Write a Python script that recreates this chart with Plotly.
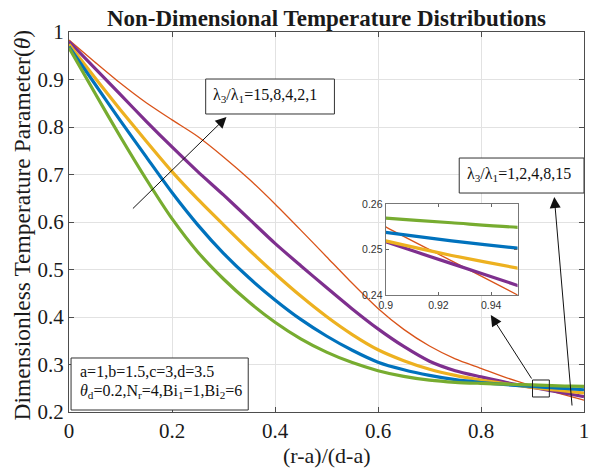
import plotly.graph_objects as go

# ---------------- data ----------------
x_vals = [0, 0.05, 0.1, 0.15, 0.2, 0.25, 0.3, 0.35, 0.4, 0.45, 0.5, 0.55, 0.6,
          0.65, 0.7, 0.75, 0.8, 0.85, 0.9, 0.925, 0.95, 0.975, 1.0]

red = [0.983, 0.937, 0.892, 0.851, 0.815, 0.780, 0.737, 0.690, 0.638, 0.583, 0.527, 0.471,
       0.418, 0.374, 0.339, 0.312, 0.292, 0.272, 0.2550, 0.2475, 0.2400, 0.2325, 0.2250]
purple = [0.980, 0.924, 0.868, 0.812, 0.758, 0.706, 0.657, 0.606, 0.555, 0.508, 0.462, 0.417,
          0.375, 0.338, 0.307, 0.287, 0.274, 0.262, 0.2517, 0.2469, 0.2421, 0.2373, 0.2325]
orange = [0.974, 0.904, 0.836, 0.770, 0.706, 0.648, 0.594, 0.541, 0.491, 0.444, 0.401, 0.363,
          0.331, 0.308, 0.290, 0.277, 0.267, 0.259, 0.2519, 0.2487, 0.2459, 0.2430, 0.2400]
blue = [0.969, 0.891, 0.813, 0.737, 0.662, 0.594, 0.534, 0.482, 0.436, 0.395, 0.360, 0.330,
        0.305, 0.289, 0.277, 0.268, 0.262, 0.2575, 0.2538, 0.2519, 0.2503, 0.2486, 0.2468]
green = [0.967, 0.872, 0.779, 0.690, 0.607, 0.537, 0.480, 0.431, 0.389, 0.354, 0.326, 0.304,
         0.287, 0.275, 0.267, 0.2625, 0.2603, 0.2585, 0.2569, 0.2559, 0.2549, 0.2545, 0.2541]

series = [("red", red, "#D95319", 1.3),
          ("purple", purple, "#7E2F8E", 3.2),
          ("orange", orange, "#EDB120", 3.2),
          ("blue", blue, "#0072BD", 3.2),
          ("green", green, "#77AC30", 3.2)]

x_ticks = [0, 0.2, 0.4, 0.6, 0.8, 1.0]
x_ticktext = ["0", "0.2", "0.4", "0.6", "0.8", "1"]
y_ticks = [0.2, 0.3, 0.4, 0.5, 0.6, 0.7, 0.8, 0.9, 1.0]
y_ticktext = ["0.2", "0.3", "0.4", "0.5", "0.6", "0.7", "0.8", "0.9", "1"]
inset_xticks = [0.9, 0.92, 0.94]
inset_xtext = ["0.9", "0.92", "0.94"]
inset_yticks = [0.24, 0.25, 0.26]
inset_ytext = ["0.24", "0.25", "0.26"]

SERIF = "Liberation Serif, Times New Roman, serif"
SANS = "Liberation Sans, Arial, sans-serif"

fig = go.Figure()
for name, ys, col, w in series:
    fig.add_trace(go.Scatter(x=x_vals, y=ys, mode="lines", name=name,
                             line=dict(color=col, width=w, shape="spline", smoothing=0.7),
                             showlegend=False, hoverinfo="skip"))
for name, ys, col, w in series:
    fig.add_trace(go.Scatter(x=x_vals, y=ys, mode="lines", name=name + " (zoom)",
                             xaxis="x2", yaxis="y2",
                             line=dict(color=col, width=w, shape="spline", smoothing=0.7),
                             showlegend=False, hoverinfo="skip"))

axis_common = dict(ticks="inside", ticklen=5, tickcolor="#4d4d4d", showline=True,
                   linecolor="#4d4d4d", linewidth=1, mirror="ticks", showgrid=True,
                   gridcolor="#e2e2e2", gridwidth=1, zeroline=False,
                   ticklabeloverflow="allow",
                   tickfont=dict(family=SERIF, size=21, color="#1a1a1a"))

fig.update_layout(
    width=589, height=474,
    margin=dict(l=69, r=0, t=32, b=62),
    paper_bgcolor="white", plot_bgcolor="white",
    title=dict(text="<b>Non-Dimensional Temperature Distributions</b>",
               x=0.5, xref="paper", xanchor="center",
               y=1 - 18 / 474, yref="container", yanchor="middle",
               font=dict(family=SERIF, size=23, color="#1a1a1a")),
    xaxis=dict(range=[0, 1], tickvals=x_ticks, ticktext=x_ticktext, **axis_common),
    yaxis=dict(range=[0.2, 1], tickvals=y_ticks, ticktext=y_ticktext, **axis_common),
    xaxis2=dict(domain=[0.615, 0.871], anchor="y2", range=[0.9, 0.95],
                tickvals=inset_xticks, ticktext=inset_xtext, ticks="inside", ticklen=3,
                tickcolor="#666", showline=True, linecolor="#777", linewidth=1.2,
                mirror="ticks", showgrid=False, zeroline=False,
                tickfont=dict(family=SANS, size=10.5, color="#333")),
    yaxis2=dict(domain=[0.308, 0.547], anchor="x2", range=[0.24, 0.26],
                tickvals=inset_yticks, ticktext=inset_ytext, ticks="inside", ticklen=3,
                tickcolor="#666", showline=True, linecolor="#777", linewidth=1.2,
                mirror="ticks", showgrid=False, zeroline=False,
                tickfont=dict(family=SANS, size=10.5, color="#333")),
)

shapes = [
    # inset white background (drawn in the inset subplot, below its traces)
    dict(type="rect", xref="x2", yref="y2", x0=0.9, x1=0.95, y0=0.24, y1=0.26,
         fillcolor="white", line=dict(width=0), layer="below"),
    # annotation box 1
    dict(type="rect", xref="x", yref="y", x0=0.2654, x1=0.5154, y0=0.8274, y1=0.901,
         fillcolor="white", line=dict(color="#333", width=1), layer="above"),
    # annotation box 2
    dict(type="rect", xref="x", yref="y", x0=0.7577, x1=1.0, y0=0.661, y1=0.7347,
         fillcolor="white", line=dict(color="#333", width=1), layer="above"),
    # parameter box
    dict(type="rect", xref="x", yref="y", x0=0.004, x1=0.348, y0=0.2042, y1=0.3137,
         fillcolor="white", line=dict(color="#333", width=1), layer="above"),
    # zoom window
    dict(type="rect", xref="x", yref="y", x0=0.9, x1=0.9327, y0=0.2316, y1=0.2674,
         fillcolor="rgba(0,0,0,0)", line=dict(color="#222", width=1), layer="above"),
]
fig.update_layout(shapes=shapes)

tf = dict(family=SERIF, size=16, color="#111")
annotations = [
    dict(text="λ<sub>3</sub>/λ<sub>1</sub>=15,8,4,2,1", x=0.3798, y=0.866, xref="x", yref="y",
         showarrow=False, font=tf, xanchor="center", yanchor="middle"),
    dict(text="λ<sub>3</sub>/λ<sub>1</sub>=1,2,4,8,15", x=0.874, y=0.700, xref="x", yref="y",
         showarrow=False, font=tf, xanchor="center", yanchor="middle"),
    dict(text="a=1,b=1.5,c=3,d=3.5", x=0.0173, y=0.285, xref="x", yref="y",
         showarrow=False, font=tf, xanchor="left", yanchor="middle"),
    dict(text="<i>θ</i><sub>d</sub>=0.2,N<sub>r</sub>=4,Bi<sub>1</sub>=1,Bi<sub>2</sub>=6",
         x=0.0173, y=0.244, xref="x", yref="y",
         showarrow=False, font=tf, xanchor="left", yanchor="middle"),
    # arrows
    dict(text="", x=0.3058, y=0.821, ax=0.1212, ay=0.6253, xref="x", yref="y",
         axref="x", ayref="y", showarrow=True, arrowhead=2, arrowsize=2.2,
         arrowwidth=1, arrowcolor="#111"),
    dict(text="", x=0.9423, y=0.6526, ax=0.977, ay=0.2105, xref="x", yref="y",
         axref="x", ayref="y", showarrow=True, arrowhead=2, arrowsize=2.2,
         arrowwidth=1, arrowcolor="#111"),
    dict(text="", x=0.819, y=0.404, ax=0.9, ay=0.2674, xref="x", yref="y",
         axref="x", ayref="y", showarrow=True, arrowhead=2, arrowsize=2.2,
         arrowwidth=1, arrowcolor="#111"),
    # axis titles
    dict(text="Dimensionless Temperature Parameter(<i>θ</i>)", textangle=-90,
         x=(22 - 69) / 520, y=(412 - 225) / 380, xref="paper", yref="paper",
         showarrow=False, xanchor="center", yanchor="middle",
         font=dict(family=SERIF, size=23.5, color="#1a1a1a")),
    dict(text="(r-a)/(d-a)", x=0.5, y=(412 - 455) / 380, xref="paper", yref="paper",
         showarrow=False, xanchor="center", yanchor="middle",
         font=dict(family=SERIF, size=22, color="#1a1a1a")),
]
fig.update_layout(annotations=annotations)

fig.write_html("out.html")
